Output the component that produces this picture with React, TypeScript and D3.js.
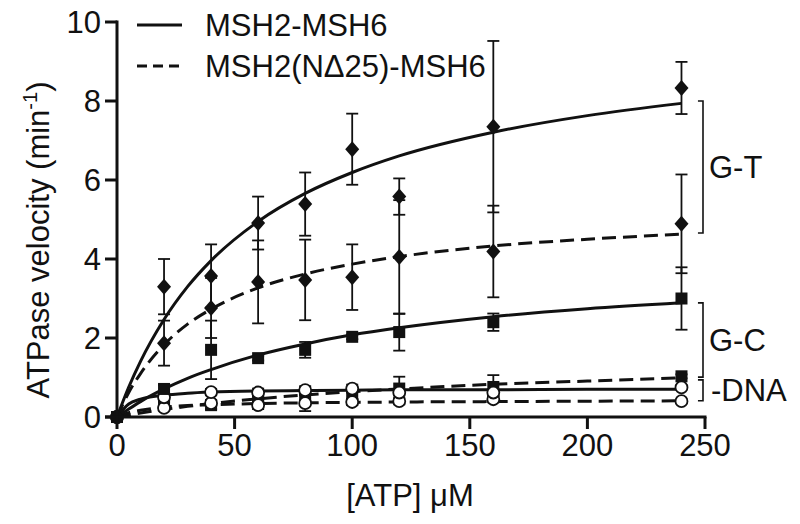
import React from "react";
import * as d3 from "d3";

// measured points: [ATP] in uM
const atp = [0, 20, 40, 60, 80, 100, 120, 160, 240];

const wtGT = [0, 3.3, 3.57, 4.91, 5.39, 6.78, 5.58, 7.35, 8.33];
const wtGTErr = [0, 0.7, 0.8, 0.67, 0.8, 0.9, 0.46, 2.17, 0.66];
const dnGT = [0, 1.87, 2.76, 3.42, 3.47, 3.54, 4.05, 4.19, 4.89];
const dnGTErr = [0, 0.57, 0.76, 1.05, 1.02, 0.83, 1.44, 1.16, 1.25];
const wtGC = [0, 0.71, 1.7, 1.49, 1.7, 2.03, 2.15, 2.4, 3.0];
const wtGCErr = [0, 0.1, 0.74, 0.06, 0.2, 0.06, 0.47, 0.22, 0.79];
const dnGC = [0, 0.3, 0.3, 0.5, 0.5, 0.6, 0.72, 0.76, 1.03];
const dnGCErr = [0, 0.08, 0.1, 0.12, 0.1, 0.15, 0.3, 0.3, 0.05];
const wtNoDNA = [0, 0.5, 0.63, 0.62, 0.68, 0.72, 0.62, 0.62, 0.75];
const wtNoDNAErr = [0, 0.08, 0.08, 0.1, 0.1, 0.1, 0.08, 0.08, 0.05];
const dnNoDNA = [0, 0.23, 0.35, 0.3, 0.35, 0.38, 0.4, 0.45, 0.4];
const dnNoDNAErr = [0, 0.05, 0.08, 0.1, 0.2, 0.08, 0.08, 0.08, 0.05];

// fitted curves
const fitX = [0, 5, 10, 20, 30, 40, 60, 80, 100, 120, 160, 200, 240];
const wtGTFit = [0, 0.76, 1.41, 2.47, 3.3, 3.96, 4.95, 5.66, 6.19, 6.61, 7.21, 7.63, 7.94];
const dnGTFit = [0, 0.62, 1.1, 1.83, 2.35, 2.73, 3.27, 3.62, 3.87, 4.06, 4.33, 4.5, 4.63];
const wtGCFit = [0, 0.2, 0.39, 0.71, 0.98, 1.2, 1.57, 1.85, 2.08, 2.26, 2.54, 2.74, 2.89];
const dnGCFit = [0, 0.05, 0.1, 0.19, 0.27, 0.34, 0.46, 0.56, 0.64, 0.71, 0.83, 0.91, 0.99];
const wtNoDNAFit = [0, 0.33, 0.45, 0.55, 0.6, 0.63, 0.66, 0.67, 0.68, 0.69, 0.69, 0.7, 0.7];
const dnNoDNAFit = [0, 0.11, 0.17, 0.25, 0.29, 0.31, 0.34, 0.36, 0.37, 0.38, 0.39, 0.4, 0.41];

const xTicks = [0, 50, 100, 150, 200, 250];
const yTicks = [0, 2, 4, 6, 8, 10];

const legendLabels = ["MSH2-MSH6", "MSH2(NΔ25)-MSH6"];
// bracket groups: [label, top, bottom]
const groups: [string, number, number][] = [
  ["G-T", 8.0, 4.66],
  ["G-C", 2.89, 1.01],
  ["-DNA", 0.94, 0.41],
];

const FONT = "'Liberation Sans', Arial, Helvetica, sans-serif";

type Series = {
  y: number[];
  err: number[];
  fit: number[];
  dashed: boolean;
  marker: "diamond" | "square" | "circle";
};

// draw order: squares under the open circles, diamonds on top
const series: Series[] = [
  { y: dnGC, err: dnGCErr, fit: dnGCFit, dashed: true, marker: "square" },
  { y: dnNoDNA, err: dnNoDNAErr, fit: dnNoDNAFit, dashed: true, marker: "circle" },
  { y: wtNoDNA, err: wtNoDNAErr, fit: wtNoDNAFit, dashed: false, marker: "circle" },
  { y: wtGC, err: wtGCErr, fit: wtGCFit, dashed: false, marker: "square" },
  { y: dnGT, err: dnGTErr, fit: dnGTFit, dashed: true, marker: "diamond" },
  { y: wtGT, err: wtGTErr, fit: wtGTFit, dashed: false, marker: "diamond" },
];

export default function App() {
  const width = 800;
  const height = 524;
  const x = d3.scaleLinear().domain([0, 250]).range([117, 705]);
  const y = d3.scaleLinear().domain([0, 10]).range([417, 22]);

  const line = d3
    .line<number>()
    .x((d, i) => x(fitX[i]))
    .y((d) => y(d))
    .curve(d3.curveMonotoneX);

  const dash = "14,7";

  const drawMarker = (m: Series["marker"], cx: number, cy: number, key: string) => {
    if (m === "diamond") {
      return (
        <path
          key={key}
          d={`M${cx},${cy - 8}L${cx + 7},${cy}L${cx},${cy + 8}L${cx - 7},${cy}Z`}
          fill="#111"
        />
      );
    }
    if (m === "square") {
      return <rect key={key} x={cx - 6} y={cy - 6} width={12} height={12} fill="#111" />;
    }
    return (
      <circle key={key} cx={cx} cy={cy} r={6} fill="#fff" stroke="#111" strokeWidth={1.8} />
    );
  };

  return (
    <svg
      width={width}
      height={height}
      style={{ position: "absolute", left: 0, top: 0, background: "#fff" }}
      fontFamily={FONT}
    >
      {/* series: fit curve, error bars, markers */}
      {series.map((s, si) => (
        <g key={si}>
          <path
            d={line(s.fit) || ""}
            fill="none"
            stroke="#111"
            strokeWidth={3}
            strokeDasharray={s.dashed ? dash : undefined}
          />
          {atp.map((a, i) =>
            s.err[i] > 0 ? (
              <g key={i} stroke="#111" strokeWidth={1.8}>
                <line x1={x(a)} x2={x(a)} y1={y(s.y[i] + s.err[i])} y2={y(s.y[i] - s.err[i])} />
                <line x1={x(a) - 6} x2={x(a) + 6} y1={y(s.y[i] + s.err[i])} y2={y(s.y[i] + s.err[i])} />
                <line x1={x(a) - 6} x2={x(a) + 6} y1={y(s.y[i] - s.err[i])} y2={y(s.y[i] - s.err[i])} />
              </g>
            ) : null
          )}
          {atp.map((a, i) => drawMarker(s.marker, x(a), y(s.y[i]), `m${i}`))}
        </g>
      ))}

      {/* axes */}
      <g stroke="#111" strokeWidth={3} fill="none">
        <line x1={x(0)} x2={x(0)} y1={y(10) - 1.5} y2={y(0)} />
        <line x1={x(0) - 12} x2={x(250) + 1.5} y1={y(0)} y2={y(0)} />
        {yTicks.map((t) => (
          <line key={t} x1={x(0) - 12} x2={x(0)} y1={y(t)} y2={y(t)} />
        ))}
        {xTicks.map((t) => (
          <line key={t} x1={x(t)} x2={x(t)} y1={y(0)} y2={y(0) + 12} />
        ))}
      </g>
      {yTicks.map((t) => (
        <text key={t} x={101} y={y(t)} dy="0.35em" textAnchor="end" fontSize={31} fill="#111">
          {t}
        </text>
      ))}
      {xTicks.map((t) => (
        <text key={t} x={x(t)} y={456} textAnchor="middle" fontSize={31} fill="#111">
          {t}
        </text>
      ))}

      {/* axis titles */}
      <text x={410} y={506} textAnchor="middle" fontSize={31} fill="#111">
        [ATP] μM
      </text>
      <text
        transform={`translate(49,240) rotate(-90)`}
        textAnchor="middle"
        fontSize={31}
        fill="#111"
      >
        ATPase velocity (min
        <tspan fontSize={20} dy={-12}>
          -1
        </tspan>
        <tspan dy={12}>)</tspan>
      </text>

      {/* legend */}
      {legendLabels.map((l, i) => (
        <g key={l}>
          <line
            x1={137}
            x2={182}
            y1={25 + i * 41}
            y2={25 + i * 41}
            stroke="#111"
            strokeWidth={3}
            strokeDasharray={i === 1 ? "10,6" : undefined}
          />
          <text x={205} y={25 + i * 41} dy="0.36em" fontSize={31} fill="#111">
            {l}
          </text>
        </g>
      ))}

      {/* group brackets */}
      {groups.map(([label, top, bottom]) => (
        <g key={label}>
          <path
            d={`M${x(247)},${y(top)}H${x(250) - 2}V${y(bottom)}H${x(247)}`}
            fill="none"
            stroke="#111"
            strokeWidth={1.6}
          />
          <text
            x={label === "-DNA" ? 711 : 709}
            y={(y(top) + y(bottom)) / 2}
            dy="0.36em"
            fontSize={31}
            fill="#111"
          >
            {label}
          </text>
        </g>
      ))}
    </svg>
  );
}
